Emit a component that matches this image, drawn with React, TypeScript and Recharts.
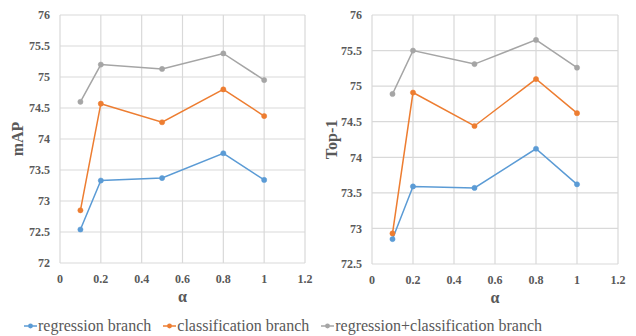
import { CartesianGrid, Line, LineChart, XAxis, YAxis } from "recharts";

const alphas = [0.1, 0.2, 0.5, 0.8, 1];
const xTicks = [0, 0.2, 0.4, 0.6, 0.8, 1, 1.2];

const mapRegression = [72.54, 73.33, 73.37, 73.77, 73.34];
const mapClassification = [72.85, 74.57, 74.27, 74.8, 74.37];
const mapCombined = [74.6, 75.2, 75.13, 75.38, 74.95];
const mapTicks = [72, 72.5, 73, 73.5, 74, 74.5, 75, 75.5, 76];

const top1Regression = [72.85, 73.59, 73.57, 74.12, 73.62];
const top1Classification = [72.93, 74.91, 74.44, 75.1, 74.62];
const top1Combined = [74.89, 75.5, 75.31, 75.65, 75.26];
const top1Ticks = [72.5, 73, 73.5, 74, 74.5, 75, 75.5, 76];

const seriesNames = [
  "regression branch",
  "classification branch",
  "regression+classification branch",
];
const colors = ["#5B9BD5", "#ED7D31", "#A5A5A5"];

const FONT = '"Liberation Serif", "Times New Roman", serif';
const TEXT = "#595959";
const GRID = "#D9D9D9";

const tickStyle = { fontSize: 12, fontWeight: 700, fill: TEXT, fontFamily: FONT };

function buildRows(reg: number[], cls: number[], comb: number[]) {
  return alphas.map((a, i) => ({ alpha: a, reg: reg[i], cls: cls[i], comb: comb[i] }));
}

function YTitle({ viewBox, value, dx }: any) {
  const cx = viewBox.x + dx;
  const cy = viewBox.y + viewBox.height / 2;
  return (
    <text
      x={cx}
      y={cy}
      transform={`rotate(-90 ${cx} ${cy})`}
      textAnchor="middle"
      dominantBaseline="central"
      fontFamily={FONT}
      fontWeight={700}
      fontSize={16}
      fill={TEXT}
    >
      {value}
    </text>
  );
}

interface PanelProps {
  rows: ReturnType<typeof buildRows>;
  yTicks: number[];
  yTitle: string;
  margin: { top: number; right: number; bottom: number; left: number };
  titleDx: number;
}

function Panel({ rows, yTicks, yTitle, margin, titleDx }: PanelProps) {
  const keys = ["reg", "cls", "comb"];
  return (
    <LineChart width={318} height={336} data={rows} margin={margin}>
      <CartesianGrid stroke={GRID} strokeWidth={1.2} />
      <XAxis
        type="number"
        dataKey="alpha"
        domain={[0, 1.2]}
        ticks={xTicks}
        axisLine={false}
        tickLine={false}
        tick={tickStyle}
        tickMargin={5}
        height={30}
        label={{
          value: "α",
          position: "insideBottom",
          offset: -9,
          style: { fontSize: 16, fontWeight: 700, fill: TEXT, fontFamily: FONT },
        }}
      />
      <YAxis
        type="number"
        domain={[yTicks[0], yTicks[yTicks.length - 1]]}
        ticks={yTicks}
        axisLine={false}
        tickLine={false}
        tick={tickStyle}
        tickMargin={4}
        width={40}
        label={(p: any) => <YTitle {...p} value={yTitle} dx={titleDx} />}
      />
      {keys.map((k, i) => (
        <Line
          key={k}
          dataKey={k}
          name={seriesNames[i]}
          type="linear"
          stroke={colors[i]}
          strokeWidth={1.5}
          dot={{ r: 2.6, fill: colors[i], stroke: colors[i], strokeWidth: 0.5 }}
          activeDot={false}
          isAnimationActive={false}
        />
      ))}
    </LineChart>
  );
}

export default function App() {
  const mapRows = buildRows(mapRegression, mapClassification, mapCombined);
  const top1Rows = buildRows(top1Regression, top1Classification, top1Combined);
  return (
    <div
      style={{
        position: "absolute",
        left: 0,
        top: 0,
        width: 636,
        height: 336,
        background: "#fff",
        overflow: "hidden",
      }}
    >
      <div style={{ position: "absolute", left: 0, top: 0 }}>
        <Panel
          rows={mapRows}
          yTicks={mapTicks}
          yTitle="mAP"
          margin={{ top: 15, right: 13, bottom: 43, left: 20 }}
          titleDx={-3}
        />
      </div>
      <div style={{ position: "absolute", left: 318, top: 0 }}>
        <Panel
          rows={top1Rows}
          yTicks={top1Ticks}
          yTitle="Top-1"
          margin={{ top: 15, right: 18, bottom: 42, left: 14 }}
          titleDx={-1}
        />
      </div>
      <div
        style={{
          position: "absolute",
          left: 23,
          top: 316,
          height: 20,
          display: "flex",
          alignItems: "center",
          fontFamily: FONT,
          fontSize: 16,
          color: TEXT,
          whiteSpace: "nowrap",
        }}
      >
        {seriesNames.map((n, i) => (
          <div key={n} style={{ display: "flex", alignItems: "center", marginRight: 11 }}>
            <svg width={15} height={10}>
              <line x1={1} y1={5} x2={14} y2={5} stroke={colors[i]} strokeWidth={1.5} />
              <circle cx={7.5} cy={5} r={2.4} fill={colors[i]} />
            </svg>
            <span>{n}</span>
          </div>
        ))}
      </div>
    </div>
  );
}
